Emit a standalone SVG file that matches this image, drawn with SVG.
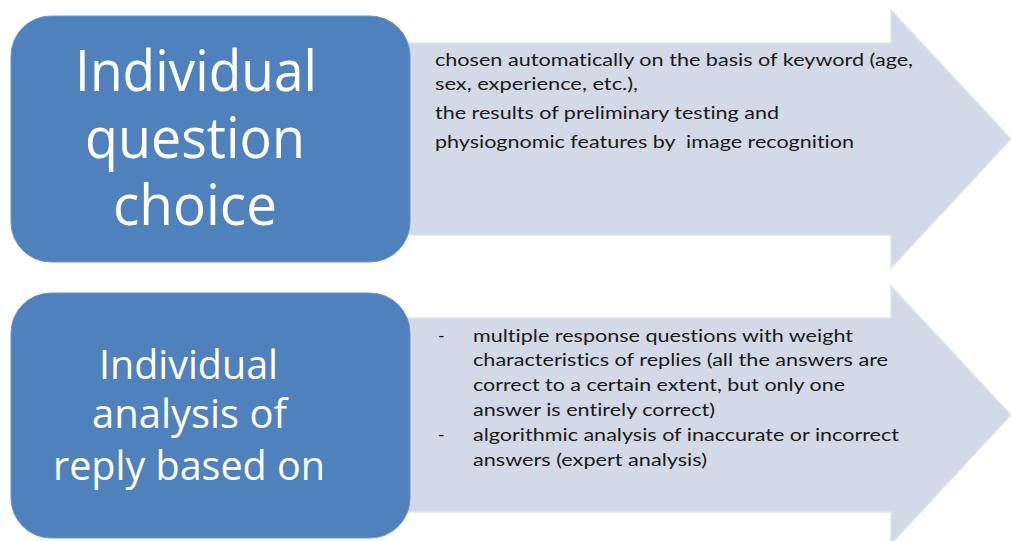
<svg xmlns="http://www.w3.org/2000/svg" width="1011" height="541" viewBox="0 0 1011 541">
  <style>
    .arrow { fill: #d3d9e6; stroke: #dfe4ed; stroke-width: 1.5; }
    .box { fill: #4f81bd; stroke: #6b95c9; stroke-width: 1; }
    text { font-variant-ligatures: none; font-feature-settings: "liga" 0, "dlig" 0; }
    .big { font-family: "Open Sans", "Liberation Sans", sans-serif; fill: #ffffff; }
    .body { font-family: Lato, "Open Sans", "Liberation Sans", sans-serif; font-size: 18px; fill: #1a1a1a; }
  </style>

  <!-- arrows behind the boxes -->
  <g id="connectors">
    <polygon class="arrow" points="400,43 891,43 891,10 1011,139 891,268 891,235 400,235"/>
    <polygon class="arrow" points="400,318 891,318 891,286 1011,415 891,544 891,512 400,512"/>
  </g>

  <g id="node-choice">
    <rect class="box" x="11" y="16" width="399" height="246" rx="40" ry="40"/>
    <text class="big" font-size="56" x="75" y="91" textLength="242" lengthAdjust="spacingAndGlyphs">Individual</text>
    <text class="big" font-size="56" x="85" y="158" textLength="220" lengthAdjust="spacingAndGlyphs">question</text>
    <text class="big" font-size="56" x="113" y="225" textLength="164" lengthAdjust="spacingAndGlyphs">choice</text>
  </g>

  <g id="node-analysis">
    <rect class="box" x="11" y="293" width="399" height="245" rx="40" ry="40"/>
    <text class="big" font-size="40" x="99" y="379" textLength="179" lengthAdjust="spacingAndGlyphs">Individual</text>
    <text class="big" font-size="40" x="92" y="428" textLength="195" lengthAdjust="spacingAndGlyphs">analysis of</text>
    <text class="big" font-size="40" x="53" y="480" textLength="272" lengthAdjust="spacingAndGlyphs">reply based on</text>
  </g>

  <g id="text-choice">
    <text class="body" x="435" y="66" textLength="478" lengthAdjust="spacingAndGlyphs">chosen automatically on the basis of keyword (age,</text>
    <text class="body" x="435" y="90" textLength="203" lengthAdjust="spacingAndGlyphs">sex, experience, etc.),</text>
    <text class="body" x="435" y="119" textLength="344" lengthAdjust="spacingAndGlyphs">the results of preliminary testing and</text>
    <text class="body" x="435" y="148" textLength="419" lengthAdjust="spacingAndGlyphs" xml:space="preserve">physiognomic features by  image recognition</text>
  </g>

  <g id="text-analysis">
    <text class="body" x="438" y="342">-</text>
    <text class="body" x="473" y="342" textLength="380" lengthAdjust="spacingAndGlyphs">multiple response questions with weight</text>
    <text class="body" x="473" y="366" textLength="415" lengthAdjust="spacingAndGlyphs">characteristics of replies (all the answers are</text>
    <text class="body" x="473" y="391" textLength="372" lengthAdjust="spacingAndGlyphs">correct to a certain extent, but only one</text>
    <text class="body" x="473" y="416" textLength="242" lengthAdjust="spacingAndGlyphs">answer is entirely correct)</text>
    <text class="body" x="438" y="441">-</text>
    <text class="body" x="473" y="441" textLength="426" lengthAdjust="spacingAndGlyphs">algorithmic analysis of inaccurate or incorrect</text>
    <text class="body" x="473" y="466" textLength="234" lengthAdjust="spacingAndGlyphs">answers (expert analysis)</text>
  </g>
</svg>
